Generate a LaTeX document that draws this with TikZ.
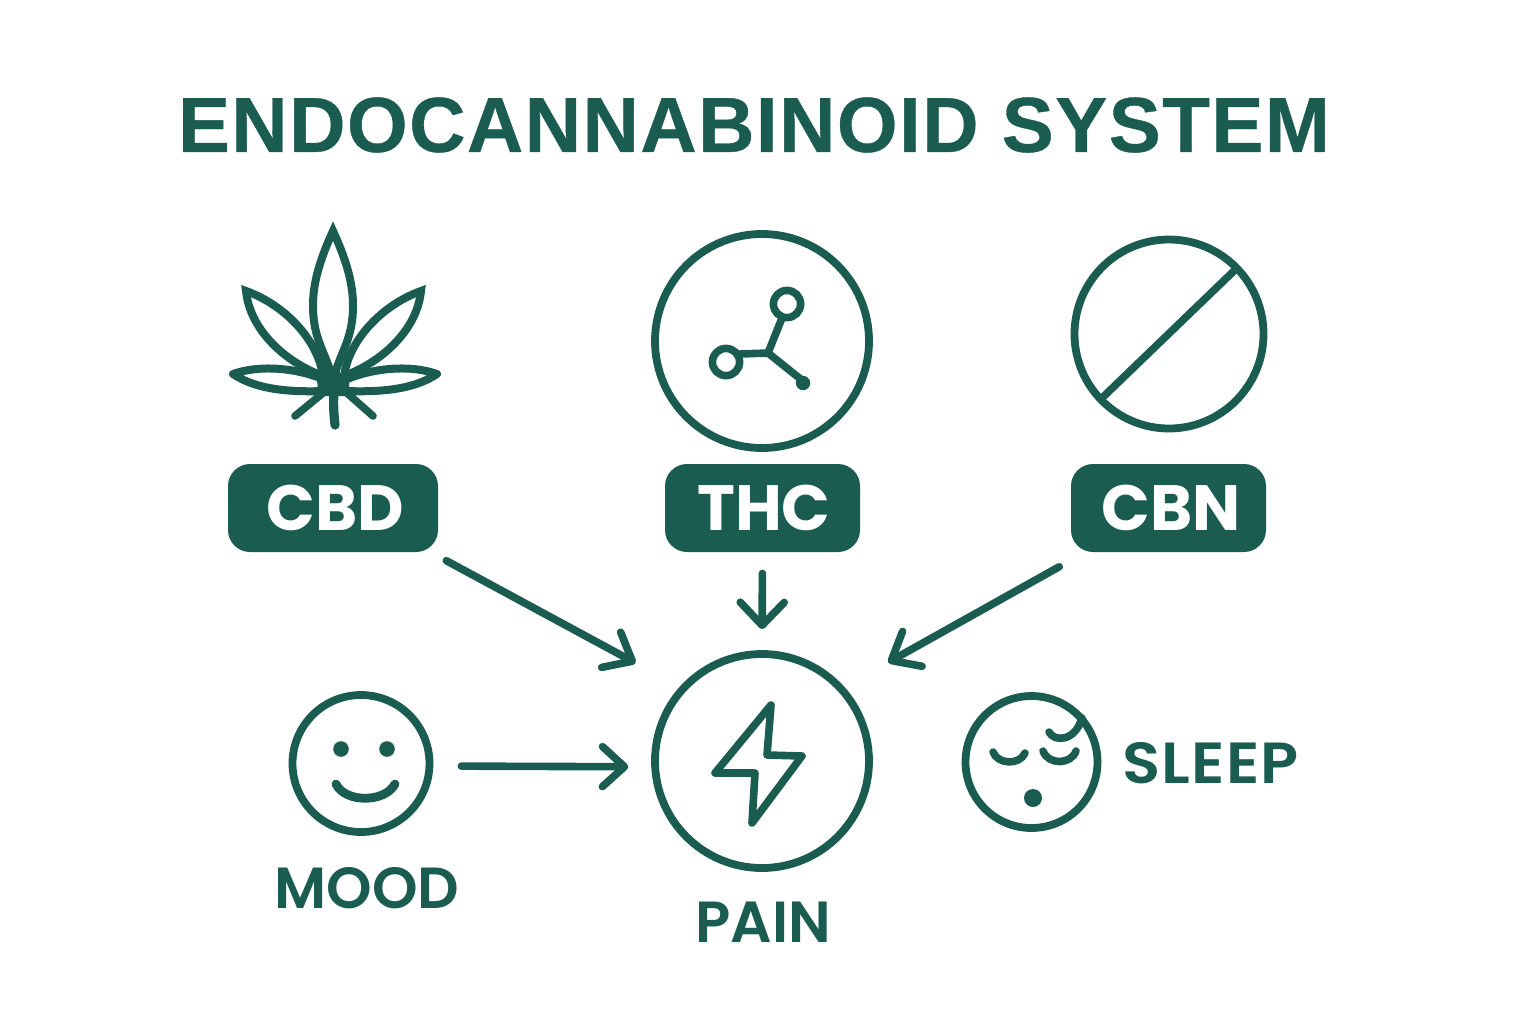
\documentclass[tikz,border=0pt]{standalone}
\usepackage{fontspec}
\setmainfont{Poppins}
\newfontfamily\titlefont{Liberation Sans}[LetterSpace=1.9,BoldFeatures={FakeBold=0.5}]
\newfontfamily\labfont{Poppins SemiBold}
\newfontfamily\sleepfont{Poppins SemiBold}[FakeStretch=1.08,LetterSpace=2]
\usetikzlibrary{arrows.meta,calc}
\definecolor{tealc}{HTML}{1A5C50}
\tikzset{
  icon/.style={draw=tealc,line width=3.8pt,line cap=round,line join=round},
  leafpart/.style={icon,line width=4pt,line join=miter,miter limit=6},
  ring/.style={circle,draw=tealc,line width=3.9pt,inner sep=0pt,fill=none},
  pill/.style={rectangle,rounded corners=11pt,fill=tealc,text=white,inner sep=0pt,minimum height=44pt,font=\bfseries\fontsize{32}{32}\selectfont},
  label/.style={text=tealc,inner sep=0pt,font=\labfont\fontsize{29}{29}\selectfont},
  conn/.style={draw=tealc,line width=3.8pt,line cap=round,-{Straight Barb[length=12pt,width=20pt,line width=3.8pt,round]}},
}
\begin{document}
\begin{tikzpicture}[x=0.5pt,y=-0.5pt]
\useasboundingbox (0,0) rectangle (1536,1024);
\node[text=tealc,inner sep=0pt,font=\titlefont\bfseries\fontsize{39}{39}\selectfont] (title) at (754,125) {ENDOCANNABINOID SYSTEM};
% leaf
\draw[leafpart] (246,291) .. controls (285,305) and (318,340) .. (323,376) .. controls (285,362) and (250,330) .. (246,291) -- cycle;
\draw[leafpart] (421,291) .. controls (382,305) and (349,340) .. (344,376) .. controls (382,362) and (417,330) .. (421,291) -- cycle;
\draw[leafpart,fill=white] (333,231) .. controls (322,255) and (313,280) .. (313,305) .. controls (313,340) and (325,350) .. (333,380) .. controls (341,350) and (353,340) .. (353,305) .. controls (353,280) and (344,255) .. (333,231) -- cycle;
\draw[icon,line width=4pt] (233,374) .. controls (258,365) and (295,367) .. (325,380) -- (325,391) .. controls (295,392) and (258,391) .. (233,374) -- cycle;
\draw[icon,line width=4pt] (437,374) .. controls (412,365) and (375,367) .. (345,380) -- (345,391) .. controls (375,392) and (412,391) .. (437,374) -- cycle;
\fill[tealc] (333,366) -- (317,381) -- (319,396) -- (349,396) -- (349,381) -- cycle;
\draw[icon] (323,393) -- (295,416);
\draw[icon] (347,393) -- (373,416);
\draw[icon,line width=4.6pt] (334,392) .. controls (333,405) and (334,415) .. (335,425);
% THC
\node[ring,minimum size=107pt] (thcicon) at (762,341) {};
\draw[icon] (768,353) -- (782,318);
\draw[icon] (768,353) -- (740,354);
\draw[icon] (768,353) -- (803,381);
\fill[tealc] (803,383) circle (3.6pt);
\draw[icon] (787,304) circle (6.8pt);
\draw[icon] (726,362) circle (6.8pt);
% CBN
\node[ring,minimum size=94.5pt] (cbnicon) at (1169,334) {};
\draw[icon,line cap=butt] (1102,398) -- (1238,267);
% pills
\node[pill,minimum width=105pt] (cbd) at (333,508) {\hspace{2pt}CBD};
\node[pill,minimum width=97.5pt] (thc) at (762.5,508) {\hspace{1.5pt}THC};
\node[pill,minimum width=97.5pt] (cbn) at (1168.5,508) {\hspace{3pt}CBN};
% pain
\node[ring,minimum size=107pt] (pain) at (762,761) {};
\draw[icon] (771,705) -- (715,773) -- (755,773) -- (752,823) -- (802,756) -- (767,755) -- cycle;
\node[label] (painl) at (763,922) {PAIN};
% mood
\node[ring,minimum size=68.5pt] (mood) at (361,763.5) {};
\fill[tealc] (341,749) circle (3.9pt);
\fill[tealc] (387,749) circle (3.9pt);
\draw[icon,line width=4.4pt] (336,784) .. controls (345,803) and (385,803) .. (395,784);
\node[label] (moodl) at (367,888) {MOOD};
% sleep
\node[ring,minimum size=66pt] (sleep) at (1031.5,762) {};
\draw[icon] (993,752) .. controls (998,765) and (1020,765) .. (1025,753);
\draw[icon] (1043,751) .. controls (1048,765) and (1071,765) .. (1076,751);
\draw[icon] (1049,732) .. controls (1054,742) and (1075,742) .. (1082,718);
\fill[tealc] (1033,798) circle (4.5pt);
\node[text=tealc,inner sep=0pt,font=\sleepfont\fontsize{29}{29}\selectfont,anchor=west] (sleepl) at (1122,763) {SLEEP};
% connectors
\draw[conn,shorten <=4.5pt,shorten >=25pt] ([yshift=-2pt]cbd.south east) -- (pain.138.7);
\draw[conn,-{Straight Barb[length=11.5pt,width=22pt,line width=3.8pt,round]},shorten <=10.5pt,shorten >=10.5pt] (thc.south) -- (pain.north);
\draw[conn,shorten <=6.5pt,shorten >=25pt] ([yshift=-4pt]cbn.south west) -- (pain.42.4);
\draw[conn,-{Straight Barb[length=11pt,width=20pt,line width=3.8pt,round]},shorten <=14pt,shorten >=11.5pt] (mood.-2.5) -- (pain.183);
\end{tikzpicture}
\end{document}
